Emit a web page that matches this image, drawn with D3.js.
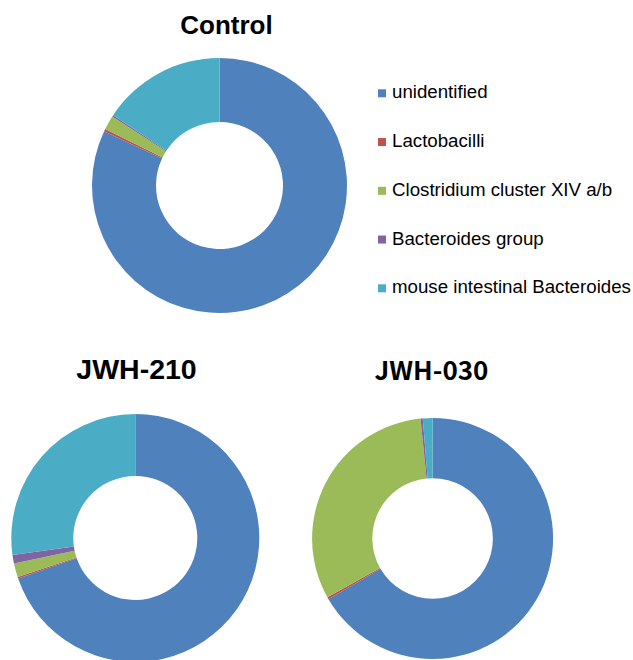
<!DOCTYPE html>
<html>
<head>
<meta charset="utf-8">
<script src="https://cdn.jsdelivr.net/npm/d3@7"></script>
<style>
  body { margin: 0; background: #fff; }
  svg { display: block; }
</style>
</head>
<body>
<div id="chart"></div>
<script>
const categories = ['unidentified', 'Lactobacilli', 'Clostridium cluster XIV a/b', 'Bacteroides group', 'mouse intestinal Bacteroides']
const colors = ['#4F81BD', '#C0504D', '#9BBB59', '#8064A2', '#4BACC6']

// percent of total for each group
const controlValues = [82.0, 0.3, 1.8, 0.2, 15.7]
const jwh210Values = [69.7, 0.2, 1.8, 1.1, 27.2]
const jwh030Values = [66.6, 0.3, 31.5, 0.3, 1.3]

const width = 633
const height = 660

const svg = d3.select('#chart').append('svg').attr('width', width).attr('height', height)

const color = d3.scaleOrdinal().domain(categories).range(colors)
const pie = d3.pie().sort(null).value(d => d.value)

const charts = [
  { title: 'Control', values: controlValues, cx: 219.5, cy: 185.5, outer: 127.5, inner: 63.5,
    tx: 226.5, ty: 34, font: 'Arial, "Liberation Sans", sans-serif', size: 26 },
  { title: 'JWH-210', values: jwh210Values, cx: 135.3, cy: 538, outer: 124, inner: 62,
    tx: 136.5, ty: 378.5, font: 'Arial, "Liberation Sans", sans-serif', size: 28.5 },
  { title: 'JWH-030', values: jwh030Values, cx: 432.6, cy: 538.5, outer: 120.5, inner: 60.3,
    tx: 431.5, ty: 380, font: '"Noto Sans CJK KR", "Noto Sans", sans-serif', size: 26 },
]

charts.forEach(c => {
  const data = categories.map((name, i) => ({ name: name, value: c.values[i] }))
  const arc = d3.arc().innerRadius(c.inner).outerRadius(c.outer)
  const g = svg.append('g').attr('transform', `translate(${c.cx}, ${c.cy})`)

  g.selectAll('path')
    .data(pie(data))
    .enter()
    .append('path')
    .attr('d', arc)
    .attr('fill', d => color(d.data.name))

  svg.append('text')
    .attr('x', c.tx)
    .attr('y', c.ty)
    .attr('text-anchor', 'middle')
    .attr('font-family', c.font)
    .attr('font-weight', 'bold')
    .attr('font-size', c.size)
    .attr('fill', '#000')
    .text(c.title)
})

// legend
const legendRow = d3.scalePoint().domain(categories).range([98.3, 293.3])
const legend = svg.append('g').attr('class', 'legend')
const items = legend.selectAll('g').data(categories).enter().append('g')
  .attr('transform', d => `translate(378, ${legendRow(d)})`)

items.append('rect')
  .attr('x', 0)
  .attr('y', -9)
  .attr('width', 8)
  .attr('height', 8)
  .attr('fill', d => color(d))

items.append('text')
  .attr('x', 14)
  .attr('y', 0)
  .attr('font-family', 'Arial, "Liberation Sans", sans-serif')
  .attr('font-size', 18.7)
  .attr('fill', '#000')
  .text(d => d)
</script>
</body>
</html>
